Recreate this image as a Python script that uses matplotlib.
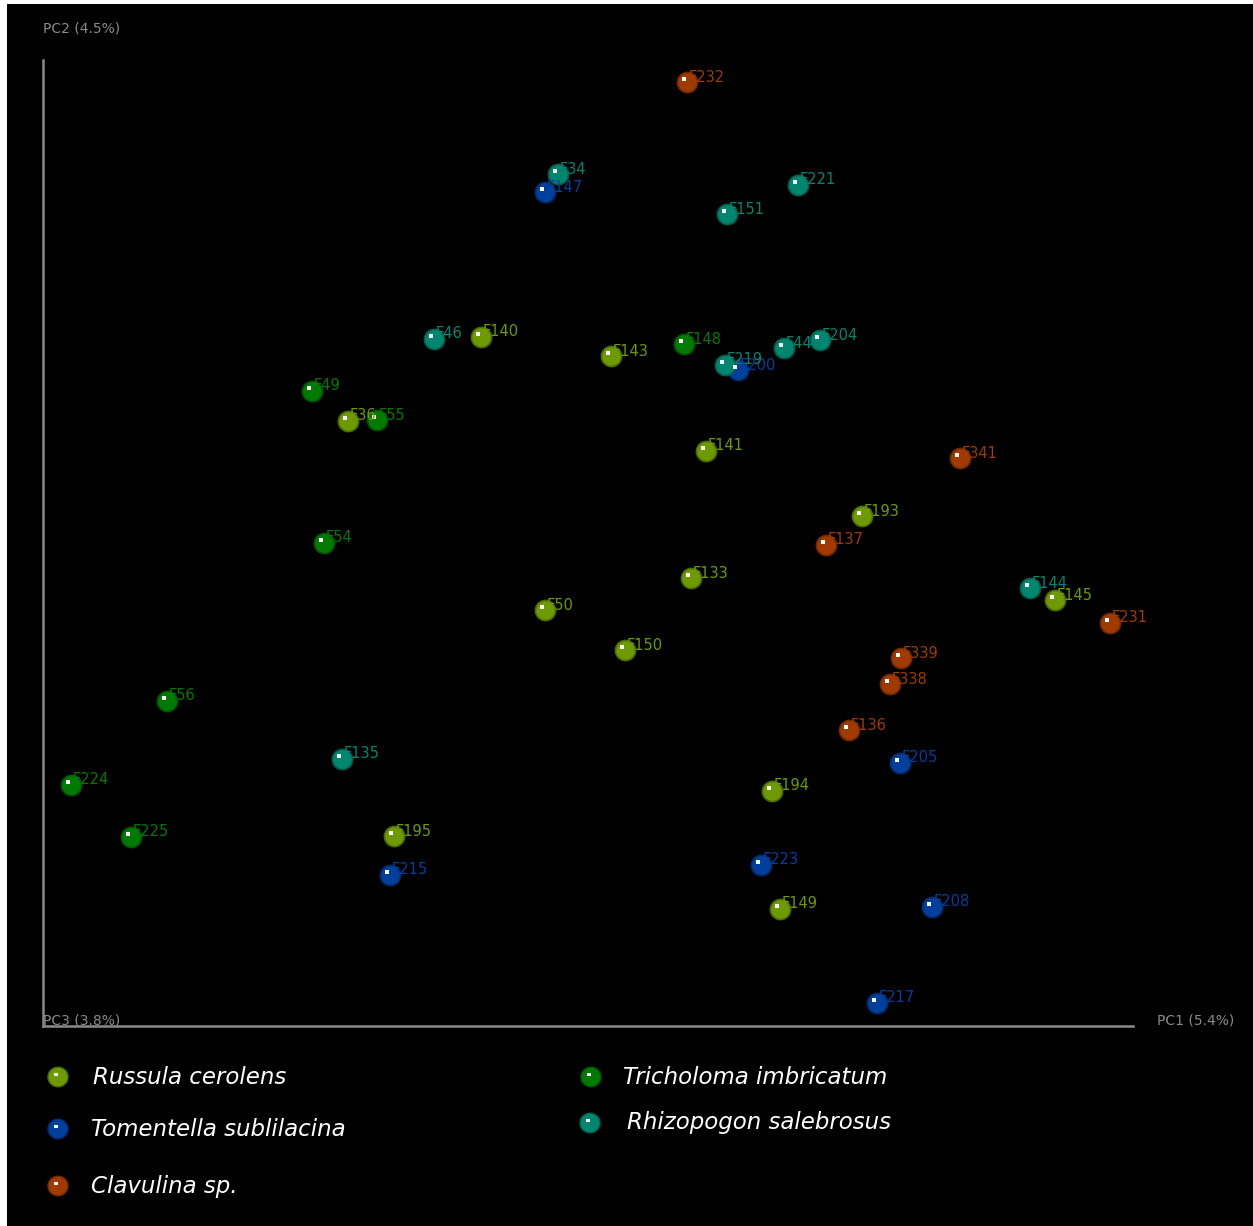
import numpy as np
import matplotlib.pyplot as plt
from matplotlib.patches import Rectangle

# PCoA scores per species (PC1, PC2)
russula_ids = ["F140", "F143", "F36", "F141", "F193", "F133", "F50", "F150", "F145", "F194", "F195", "F149"]
russula_pc1 = [4.38, 5.68, 3.05, 6.63, 8.19, 6.48, 5.02, 5.82, 10.12, 7.29, 3.51, 7.37]
russula_pc2 = [6.89, 6.70, 6.05, 5.75, 5.10, 4.48, 4.16, 3.76, 4.26, 2.35, 1.90, 1.17]

tomentella_ids = ["F147", "F200", "F205", "F223", "F215", "F208", "F217"]
tomentella_pc1 = [5.02, 6.95, 8.57, 7.18, 3.47, 8.89, 8.34]
tomentella_pc2 = [8.34, 6.56, 2.63, 1.61, 1.51, 1.19, 0.23]

clavulina_ids = ["F232", "F341", "F137", "F231", "F339", "F338", "F136"]
clavulina_pc1 = [6.44, 9.17, 7.83, 10.67, 8.58, 8.47, 8.06]
clavulina_pc2 = [9.44, 5.68, 4.81, 4.03, 3.68, 3.42, 2.96]

tricholoma_ids = ["F148", "F49", "F55", "F54", "F56", "F224", "F225"]
tricholoma_pc1 = [6.41, 2.69, 3.34, 2.81, 1.24, 0.28, 0.88]
tricholoma_pc2 = [6.82, 6.35, 6.06, 4.83, 3.25, 2.41, 1.89]

rhizopogon_ids = ["F34", "F221", "F151", "F46", "F204", "F44", "F219", "F144", "F135"]
rhizopogon_pc1 = [5.15, 7.55, 6.84, 3.91, 7.77, 7.41, 6.82, 9.87, 2.99]
rhizopogon_pc2 = [8.52, 8.41, 8.12, 6.87, 6.86, 6.78, 6.61, 4.38, 2.67]

species = ["Russula cerolens", "Tomentella sublilacina", "Clavulina sp.",
           "Tricholoma imbricatum", "Rhizopogon salebrosus"]
colors = ["#6c9a00", "#003f9c", "#a03a00", "#007a00", "#00866e"]

groups = [
    (tomentella_ids, tomentella_pc1, tomentella_pc2, colors[1]),
    (rhizopogon_ids, rhizopogon_pc1, rhizopogon_pc2, colors[4]),
    (tricholoma_ids, tricholoma_pc1, tricholoma_pc2, colors[3]),
    (russula_ids, russula_pc1, russula_pc2, colors[0]),
    (clavulina_ids, clavulina_pc1, clavulina_pc2, colors[2]),
]

W, H = 1253, 1226
fig = plt.figure(figsize=(W / 100, H / 100), dpi=100, facecolor="white")
fig.patches.append(Rectangle((7 / W, 0), 1, 1 - 4 / H, transform=fig.transFigure,
                             facecolor="black", edgecolor="none", zorder=-10))

# axes box: origin at (43, 1026) px, up to (1133, 60) px
ax = fig.add_axes([43 / W, 1 - 1026 / H, 1090 / W, 966 / H])
ax.set_facecolor("none")
ax.set_zorder(1)
ax.set_xlim(0, 10.9)
ax.set_ylim(0, 9.66)
for s in ["top", "right"]:
    ax.spines[s].set_visible(False)
for s in ["left", "bottom"]:
    ax.spines[s].set_color("#8a8a8a")
    ax.spines[s].set_linewidth(1.8)
ax.set_xticks([])
ax.set_yticks([])

def darker(c, f=0.7):
    r, g, b = plt.matplotlib.colors.to_rgb(c)
    return (r * f, g * f, b * f)

for ids, xs, ys, col in groups:
    xs = np.array(xs)
    ys = np.array(ys)
    ax.scatter(xs, ys, s=210, color=col, edgecolors=darker(col), linewidths=1.2,
               zorder=3, clip_on=False)
    ax.scatter(xs - 0.03, ys + 0.03, s=6, marker="s", color="white", linewidths=0,
               zorder=4, clip_on=False)
    for name, x, y in zip(ids, xs, ys):
        ax.text(x + 0.02, y + 0.05, name, color=col, fontsize=10.5,
                ha="left", va="center", zorder=5, clip_on=False)

axis_grey = "#8a8a8a"
fig.text(43 / W, 1 - 29 / H, "PC2 (4.5%)", color=axis_grey, fontsize=10, va="center")
fig.text(1157 / W, 1 - 1021 / H, "PC1 (5.4%)", color=axis_grey, fontsize=10, va="center")
fig.text(43 / W, 1 - 1021 / H, "PC3 (3.8%)", color=axis_grey, fontsize=10, va="center")

# legend, two columns
leg_pos = [(58, 93, 1077), (58, 91, 1129), (58, 91, 1186), (591, 623, 1077), (590, 627, 1123)]
for name, col, (mx, tx, y) in zip(species, colors, leg_pos):
    fig.patches.append(plt.Circle((mx / W, 1 - y / H), 10 / W, transform=fig.transFigure,
                                  facecolor=col, edgecolor=darker(col), linewidth=1.0,
                                  zorder=3))
    fig.patches.append(Rectangle(((mx - 4) / W, 1 - (y - 1) / H), 3.5 / W, 3.5 / H,
                                 transform=fig.transFigure, facecolor="white",
                                 edgecolor="none", zorder=4))
    fig.text(tx / W, 1 - y / H, name, color="white", fontsize=16.5, style="italic",
             va="center", ha="left")

fig.savefig("out.png", dpi=100, facecolor=fig.get_facecolor())
